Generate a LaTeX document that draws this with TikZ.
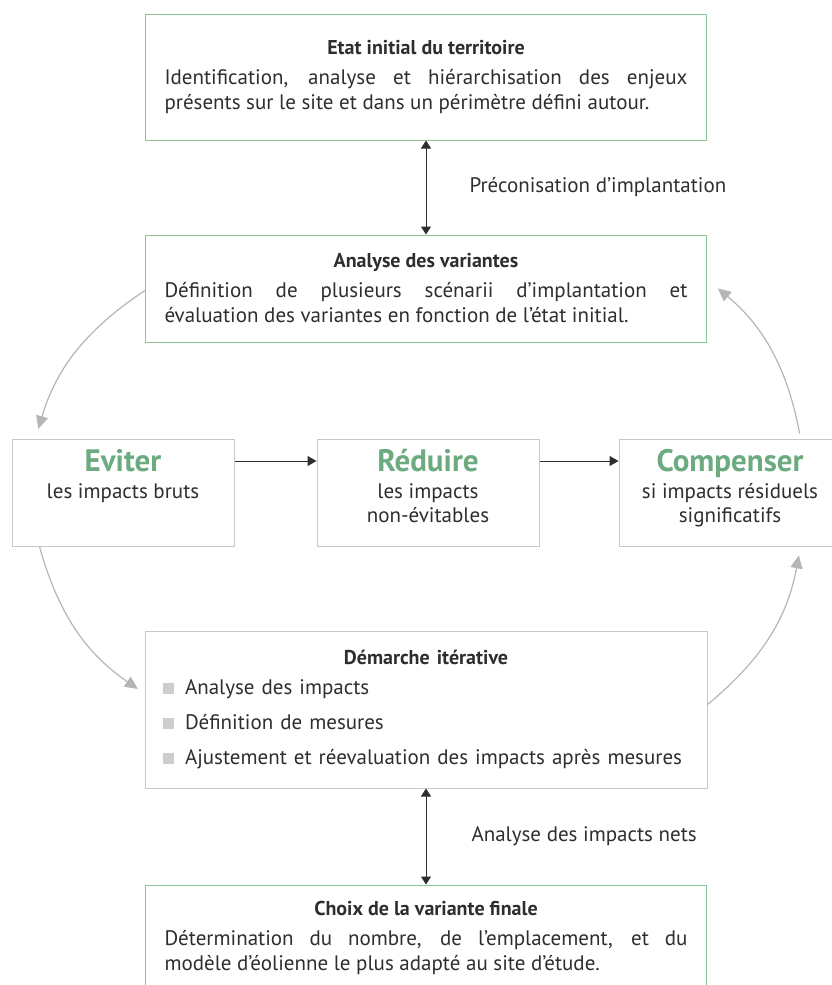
\documentclass[tikz,border=0pt]{standalone}
\usepackage{fontspec}
\setmainfont{PT Sans}
\usepackage{tikz}
\usetikzlibrary{arrows.meta,positioning}
\definecolor{ink}{HTML}{2E2E2E}
\definecolor{gline}{HTML}{8DC39B}
\definecolor{gtext}{HTML}{6CAA7F}
\definecolor{grule}{HTML}{C8C8C8}
\definecolor{garrow}{HTML}{B5B5B5}
\definecolor{bull}{HTML}{CDCDCD}
% step box content: green title, small text below
\newcommand{\stepcol}[2]{\parbox[c][107pt][t]{214pt}{\vspace*{10pt}\centering
  {\color{gtext}\fontsize{31}{31}\selectfont\bfseries #1\par}\vspace{3pt}#2}}
\newcommand{\sq}{\textcolor{bull}{\rule{11pt}{11pt}}\hspace{11pt}}
\newcommand{\ttl}[1]{{\centering\bfseries\fontsize{20}{25}\selectfont #1\par}\vspace{5pt}}

\begin{document}
\begin{tikzpicture}[
  x=1pt,y=1pt,
  font=\fontsize{21}{25}\selectfont,
  text=ink,
  gbox/.style={draw=gline,line width=1pt,fill=white,inner xsep=19pt,inner ysep=0pt,
               text width=523pt,align=justify},
  mbox/.style={draw=grule,line width=1pt,fill=white,inner xsep=4pt,inner ysep=0pt,
               minimum width=222pt,minimum height=107pt,font=\fontsize{21}{24}\selectfont},
  dbox/.style={draw=grule,line width=1pt,fill=white,inner xsep=18pt,inner ysep=0pt,
               text width=526pt,minimum height=157pt,align=left},
  dbl/.style={{Triangle[length=8pt,width=10pt]}-{Triangle[length=8pt,width=10pt]},draw=ink,line width=1pt},
  ar/.style={-{Triangle[length=9pt,width=10pt]},draw=ink,line width=1pt},
  gar/.style={-{Triangle[length=13pt,width=12pt]},draw=garrow,line width=1.2pt}
]
\useasboundingbox (0,0) rectangle (832,-985);
\clip (0,0) rectangle (832,-985);

\node[gbox,minimum height=126pt] (etat) at (426,-77) {\ttl{Etat initial du territoire}
  Identification, analyse et hiérarchisation des enjeux\linebreak
  présents sur le site et dans un périmètre défini autour.};
\node[gbox,minimum height=107pt,below=94pt of etat] (vari) {\ttl{Analyse des variantes}
  Définition de plusieurs scénarii d’implantation et\linebreak
  évaluation des variantes en fonction de l’état initial.};

\node[mbox] (redu) at (428,-492.5) {\stepcol{Réduire}{les impacts\\non-évitables}};
\node[mbox,left=82pt of redu] (evit) {\stepcol{Eviter}{les impacts bruts}};
\node[mbox,right=79pt of redu] (comp) {\stepcol{Compenser}{si impacts résiduels\\significatifs}};

\node[dbox,below=84pt of redu,xshift=-2pt] (iter) {\ttl{Démarche itérative}
  \sq Analyse des impacts\\[10pt]
  \sq Définition de mesures\\[10pt]
  \sq Ajustement et réevaluation des impacts après mesures};
\node[gbox,minimum height=106pt,below=96pt of iter] (final) {\ttl{Choix de la variante finale}
  Détermination du nombre, de l’emplacement, et du\linebreak
  modèle d’éolienne le plus adapté au site d’étude.};

% labels on the vertical links
\path (etat.south) -- (vari.north) coordinate[midway] (m1);
\path (iter.south) -- (final.north) coordinate[midway] (m2);
\node[right=40pt of m1] (lab1) {Préconisation d’implantation};
\node[right=42pt of m2] (lab2) {Analyse des impacts nets};

\draw[dbl] (etat.south) -- (vari.north);
\draw[dbl] (iter.south) -- (final.north);
\draw[ar] ([yshift=31.5pt]evit.east) -- ([yshift=31.5pt]redu.west);
\draw[ar] ([yshift=31.5pt]redu.east) -- ([yshift=31.5pt]comp.west);

% iteration loop
\draw[gar,shorten >=10pt] ([yshift=-2pt]vari.west) to[bend right=20] ([xshift=24pt]evit.north west);
\draw[gar,shorten >=8pt] ([xshift=28pt]evit.south west) to[bend right=20] ([yshift=-63pt]iter.north west);
\draw[gar,shorten >=9pt] ([yshift=-74pt]iter.north east) to[bend right=20] ([xshift=182pt]comp.south west);
\draw[gar,shorten <=5pt,shorten >=14pt] ([xshift=182pt]comp.north west) to[bend right=20] ([yshift=-45pt]vari.north east);
\end{tikzpicture}
\end{document}
